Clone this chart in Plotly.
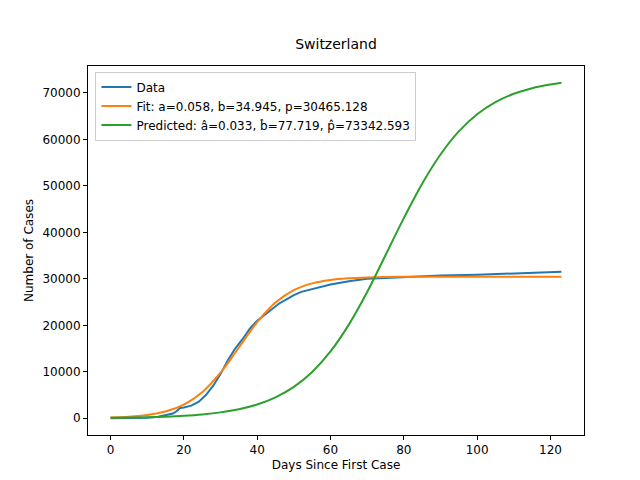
import plotly.graph_objects as go

days_data = [0,5,10,13,15,17,18,19,20,22,24,26,28,30,32,34,36,38,40,42,44,46,48,50,52,55,60,65,70,75,80,90,100,110,115,120,123]
cases_data = [0,30,100,300,600,1000,1500,2200,2300,2700,3500,5000,7000,9500,12500,15000,17000,19300,21000,22200,23300,24700,25600,26500,27200,27800,28800,29500,30000,30200,30400,30700,30900,31100,31200,31400,31500]

days_fit = [0,5,10,15,20,25,30,35,40,45,50,55,60,65,70,75,80,85,90,100,110,123]
cases_fit = [170,330,700,1440,2930,5600,9800,15230,20690,24910,27570,29020,29770,30130,30310,30390,30430,30450,30460,30465,30465,30465]

days_pred = [0,5,10,15,20,25,30,35,40,45,50,55,60,65,70,75,80,85,90,95,100,105,110,115,120,123]
cases_pred = [91,141,219,340,527,815,1258,1935,2957,4500,6750,9965,14380,20150,27160,35090,43070,50480,56770,61740,65430,68040,69830,71040,71840,72200]

fig = go.Figure()
fig.add_trace(go.Scatter(x=days_data, y=cases_data, mode="lines", name="Data",
                         line=dict(color="#1f77b4", width=2)))
fig.add_trace(go.Scatter(x=days_fit, y=cases_fit, mode="lines", name="Fit: a=0.058, b=34.945, p=30465.128",
                         line=dict(color="#ff7f0e", width=2, shape="spline")))
fig.add_trace(go.Scatter(x=days_pred, y=cases_pred, mode="lines",
                         name="Predicted: â=0.033, b\u0302=77.719, p\u0302=73342.593",
                         line=dict(color="#2ca02c", width=2, shape="spline")))

axis = dict(showgrid=False, zeroline=False, showline=True, linecolor="black", linewidth=1,
            mirror=True, ticks="outside", ticklen=4, tickcolor="black", automargin=False,
            tickfont=dict(size=12))
fig.update_layout(
    width=640, height=480, plot_bgcolor="white", paper_bgcolor="white",
    font=dict(family="DejaVu Sans", size=12, color="black"),
    margin=dict(l=80, r=64, t=58, b=53),
    title=dict(text="Switzerland", x=0.5, xanchor="center", y=0.915, yanchor="bottom",
               xref="paper", font=dict(size=14), automargin=False),
    xaxis=dict(axis, range=[-6.15, 129.15], tickvals=[0,20,40,60,80,100,120],
               title=dict(text="Days Since First Case", standoff=4, font=dict(size=12))),
    yaxis=dict(axis, range=[-3610, 75810], tickvals=[0,10000,20000,30000,40000,50000,60000,70000],
               tickformat="d", title=dict(text="Number of Cases", standoff=6, font=dict(size=12))),
    legend=dict(x=0.015, y=0.985, xanchor="left", yanchor="top", bordercolor="#cccccc",
                borderwidth=1, bgcolor="rgba(255,255,255,0.8)", font=dict(size=12),
                tracegroupgap=0),
)
fig.write_html("out.html")
